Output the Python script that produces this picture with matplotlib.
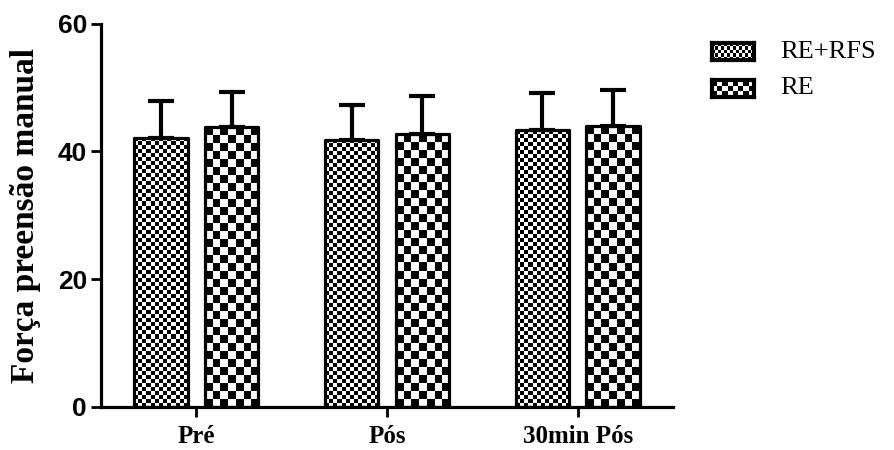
import numpy as np
import matplotlib
matplotlib.use('Agg')
import matplotlib.pyplot as plt

# data
categories = ['Pré', 'Pós', '30min Pós']
series_names = ['RE+RFS', 'RE']
re_rfs_mean = [42.1, 41.8, 43.3]
re_rfs_err = [5.7, 5.4, 5.9]
re_mean = [43.8, 42.7, 43.9]
re_err = [5.5, 5.9, 5.7]

W, H, DPI = 895, 450, 100
fig = plt.figure(figsize=(W / DPI, H / DPI), dpi=DPI)
ax = fig.add_axes([101 / W, 1 - 407 / H, 572 / W, 383.5 / H])

ax.set_xlim(-0.5, 2.5)
ax.set_ylim(0, 60)

bar_w = 0.28
offs = [-0.186, 0.186]
cells = [4, 8]  # checker cell size in pixels for each series
x = np.arange(len(categories))

px_per_x = 572 / 3.0
px_per_y = 383.5 / 60.0


def checker(nr, nc):
    i, j = np.indices((nr, nc))
    return ((i + j) % 2).astype(float)


for k, (means, errs) in enumerate([(re_rfs_mean, re_rfs_err), (re_mean, re_err)]):
    xs = x + offs[k]
    bars = ax.bar(xs, means, width=bar_w, color='white', edgecolor='none', zorder=1)
    for b in bars:
        x0, y0 = b.get_x(), b.get_y()
        bw, bh = b.get_width(), b.get_height()
        nc = max(1, int(round(bw * px_per_x / cells[k])))
        nr = max(1, int(round(bh * px_per_y / cells[k])))
        im = ax.imshow(checker(nr, nc), cmap='gray', vmin=0, vmax=1,
                       extent=[x0, x0 + bw, y0, y0 + bh], aspect='auto',
                       interpolation='nearest', origin='lower', zorder=2)
        im.set_clip_path(b)
    ax.bar(xs, means, width=bar_w, fill=False, edgecolor='black', linewidth=2.3,
           joinstyle='round', zorder=3)
    ax.errorbar(xs, means, yerr=[np.zeros(len(errs)), errs], fmt='none',
                ecolor='black', elinewidth=3, capsize=9.5, capthick=3,
                zorder=4)

ax.set_xlim(-0.5, 2.5)
ax.set_ylim(0, 60)

for s in ['top', 'right']:
    ax.spines[s].set_visible(False)
for s in ['left', 'bottom']:
    ax.spines[s].set_linewidth(2.3)
    ax.spines[s].set_capstyle('projecting')

ax.set_yticks([0, 20, 40, 60])
ax.set_xticks(x)
ax.set_xticklabels(categories, fontfamily='Liberation Serif', fontweight='bold', fontsize=18)
for lab in ax.get_yticklabels():
    lab.set_fontfamily('Liberation Sans')
    lab.set_fontweight('bold')
    lab.set_fontsize(19)
ax.tick_params(axis='both', width=2, length=7, direction='out')
ax.tick_params(axis='y', pad=3)
ax.tick_params(axis='x', pad=6)

ax.set_ylabel('Força preensão manual', fontfamily='Liberation Serif',
              fontweight='bold', fontsize=24, labelpad=12)

# legend drawn by hand so the checker fills show
leg_y = [43, 80]
for k, name in enumerate(series_names):
    lax = fig.add_axes([712 / W, 1 - (leg_y[k] + 17) / H, 42 / W, 17 / H])
    c = 3 if k == 0 else 5
    lax.imshow(checker(17 // c, 42 // c), cmap='gray', vmin=0, vmax=1,
               aspect='auto', interpolation='nearest')
    lax.set_xticks([])
    lax.set_yticks([])
    for s in lax.spines.values():
        s.set_linewidth(3)
        s.set_joinstyle('round')
    fig.text(780 / W, 1 - (leg_y[k] + 8.5) / H, name, fontfamily='Liberation Serif',
             fontsize=19, va='center', ha='left')

fig.savefig('out.png', dpi=DPI)
